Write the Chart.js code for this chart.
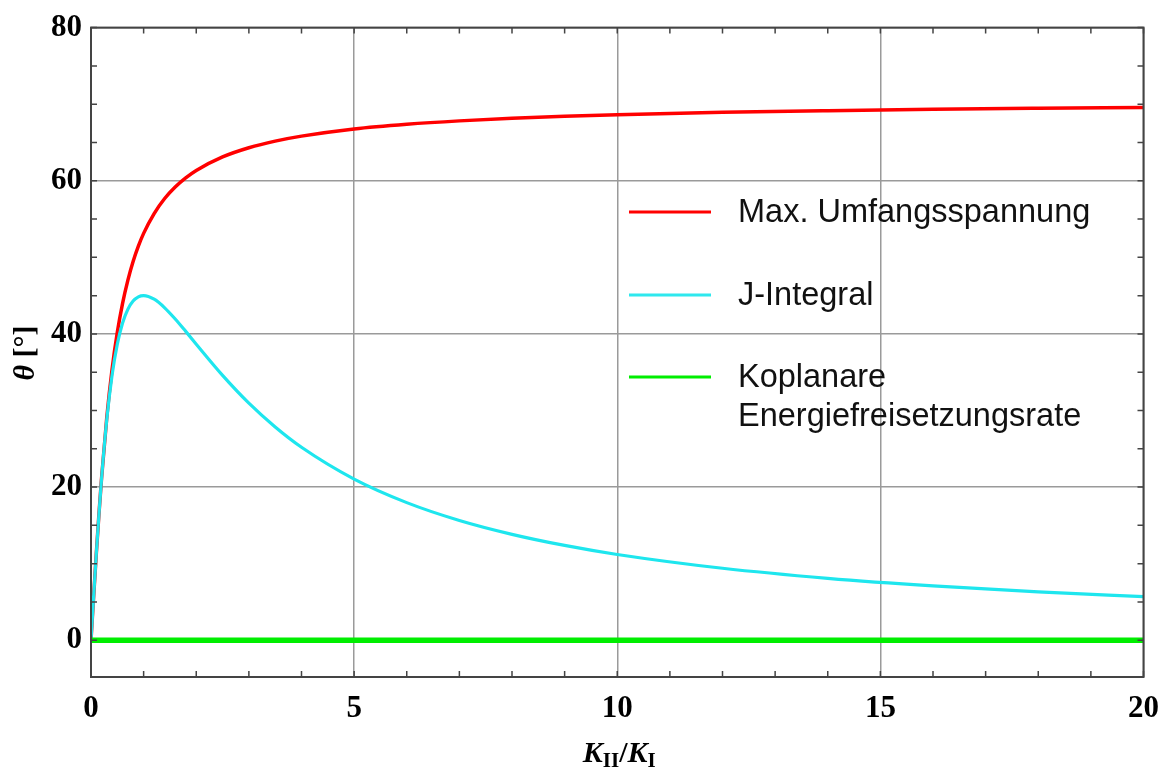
<!DOCTYPE html>
<html>
<head>
<meta charset="utf-8">
<script src="https://cdn.jsdelivr.net/npm/chart.js@4.4.1/dist/chart.umd.min.js"></script>
<style>
  html, body { margin: 0; padding: 0; background: #fff; }
  #wrap { width: 1172px; height: 767px; }
</style>
</head>
<body>
<div id="wrap"><canvas id="c" width="1172" height="767"></canvas></div>
<script>
// K_II / K_I ratio
const ratio = [0, 0.05, 0.1, 0.15, 0.2, 0.3, 0.4, 0.5, 0.6, 0.7, 0.8, 0.9, 1, 1.2, 1.4, 1.6, 1.8, 2, 2.5, 3, 3.5, 4, 5, 6, 7, 8, 9, 10, 12, 14, 16, 18, 20];

// kink angle in degrees per criterion
const maxUmfang = [0, 5.70, 11.20, 16.37, 21.09, 29.10, 35.36, 40.21, 44.0, 47.0, 49.46, 51.46, 53.13, 55.72, 57.68, 59.18, 60.37, 61.34, 63.11, 64.31, 65.18, 65.83, 66.77, 67.38, 67.82, 68.15, 68.42, 68.62, 68.93, 69.15, 69.33, 69.46, 69.57];
const jIntegral = [0, 5.70, 11.20, 16.35, 21.04, 28.83, 34.59, 38.66, 41.42, 43.21, 44.29, 44.84, 45.0, 44.53, 43.41, 41.95, 40.33, 38.66, 34.59, 30.96, 27.85, 25.20, 21.04, 17.97, 15.64, 13.83, 12.38, 11.20, 9.40, 8.09, 7.10, 6.32, 5.70];
const koplanar = [0, 0, 0, 0, 0, 0, 0, 0, 0, 0, 0, 0, 0, 0, 0, 0, 0, 0, 0, 0, 0, 0, 0, 0, 0, 0, 0, 0, 0, 0, 0, 0, 0];

const xTicks = [0, 5, 10, 15, 20];
const yTicks = [0, 20, 40, 60, 80];

const legendItems = [
  { color: "#ff0000", lines: ["Max. Umfangsspannung"] },
  { color: "#2ee8ee", lines: ["J-Integral"] },
  { color: "#00ee00", lines: ["Koplanare", "Energiefreisetzungsrate"] }
];

const pts = (ys) => ratio.map((x, i) => ({ x: x, y: ys[i] }));

const serif = "'Liberation Serif', 'Times New Roman', serif";
const sans = "'Liberation Sans', Arial, sans-serif";

// frame, inward minor ticks, axis titles and the in-plot legend
const decor = {
  id: "decor",
  afterDraw(chart) {
    const ctx = chart.ctx;
    const a = chart.chartArea;
    const xs = chart.scales.x, ys = chart.scales.y;
    ctx.save();

    ctx.strokeStyle = "#444";
    ctx.lineWidth = 1.5;
    ctx.beginPath();
    for (let v = 0; v <= 20; v++) {
      const px = xs.getPixelForValue(v);
      ctx.moveTo(px, a.bottom); ctx.lineTo(px, a.bottom - 6);
      ctx.moveTo(px, a.top); ctx.lineTo(px, a.top + 6);
    }
    for (let v = 0; v <= 80; v += 5) {
      const py = ys.getPixelForValue(v);
      ctx.moveTo(a.left, py); ctx.lineTo(a.left + 6, py);
      ctx.moveTo(a.right, py); ctx.lineTo(a.right - 6, py);
    }
    ctx.stroke();

    ctx.lineWidth = 2;
    ctx.strokeRect(a.left, a.top, a.right - a.left, a.bottom - a.top);

    // x title: K_II / K_I
    const parts = [
      { t: "K", f: "italic bold 30px " + serif, dy: 0 },
      { t: "II", f: "bold 21px " + serif, dy: 5 },
      { t: "/", f: "bold 30px " + serif, dy: 0 },
      { t: "K", f: "italic bold 30px " + serif, dy: 0 },
      { t: "I", f: "bold 21px " + serif, dy: 5 }
    ];
    let total = 0;
    for (const p of parts) { ctx.font = p.f; p.w = ctx.measureText(p.t).width; total += p.w; }
    let cx = (a.left + a.right) / 2 + 2 - total / 2;
    ctx.fillStyle = "#000";
    ctx.textBaseline = "alphabetic";
    ctx.textAlign = "left";
    for (const p of parts) { ctx.font = p.f; ctx.fillText(p.t, cx, 762 + p.dy); cx += p.w; }

    // y title: θ [°]
    ctx.translate(34, 353);
    ctx.rotate(-Math.PI / 2);
    const yp = [
      { t: "θ", f: "italic bold 30px " + serif },
      { t: " [°]", f: "bold 30px " + serif }
    ];
    total = 0;
    for (const p of yp) { ctx.font = p.f; p.w = ctx.measureText(p.t).width; total += p.w; }
    cx = -total / 2;
    for (const p of yp) { ctx.font = p.f; ctx.fillText(p.t, cx, 0); cx += p.w; }
    ctx.setTransform(1, 0, 0, 1, 0, 0);

    // legend
    const rows = [212, 295, 377];
    ctx.font = "32.5px " + sans;
    ctx.textBaseline = "middle";
    ctx.fillStyle = "#111";
    legendItems.forEach((it, i) => {
      const y = rows[i];
      ctx.strokeStyle = it.color;
      ctx.lineWidth = 3;
      ctx.beginPath(); ctx.moveTo(629, y); ctx.lineTo(711, y); ctx.stroke();
      it.lines.forEach((ln, j) => ctx.fillText(ln, 738, y + 1 + j * 39));
    });
    ctx.restore();
  }
};

const majorOnly = (list) => (scale) => { scale.ticks = list.map(v => ({ value: v })); };

new Chart(document.getElementById("c"), {
  type: "line",
  data: {
    datasets: [
      { label: "Koplanare Energiefreisetzungsrate", data: pts(koplanar), borderColor: "#00ee00", borderWidth: 5.5, order: 0 },
      { label: "J-Integral", data: pts(jIntegral), borderColor: "#1ee6ee", borderWidth: 3.2, order: 1 },
      { label: "Max. Umfangsspannung", data: pts(maxUmfang), borderColor: "#ff0000", borderWidth: 3.5, order: 2 }
    ]
  },
  options: {
    responsive: false,
    animation: false,
    layout: { padding: { top: 25, right: 27, left: 0, bottom: 0 } },
    elements: {
      point: { radius: 0 },
      line: { cubicInterpolationMode: "monotone", fill: false }
    },
    plugins: { legend: { display: false }, tooltip: { enabled: false } },
    scales: {
      x: {
        type: "linear", min: 0, max: 20,
        afterBuildTicks: majorOnly(xTicks),
        afterFit: (s) => { s.height = 90; },
        grid: { color: "#9a9a9a", lineWidth: 1.5, drawTicks: false },
        border: { display: false },
        ticks: { padding: 13, color: "#000", font: { family: serif, size: 31, weight: "bold" } }
      },
      y: {
        type: "linear", min: -4.8, max: 80,
        afterBuildTicks: majorOnly(yTicks),
        afterFit: (s) => { s.width = 91; },
        grid: { color: "#9a9a9a", lineWidth: 1.5, drawTicks: false },
        border: { display: false },
        ticks: { padding: 9, color: "#000", font: { family: serif, size: 31, weight: "bold" } }
      }
    }
  },
  plugins: [decor]
});
</script>
</body>
</html>
